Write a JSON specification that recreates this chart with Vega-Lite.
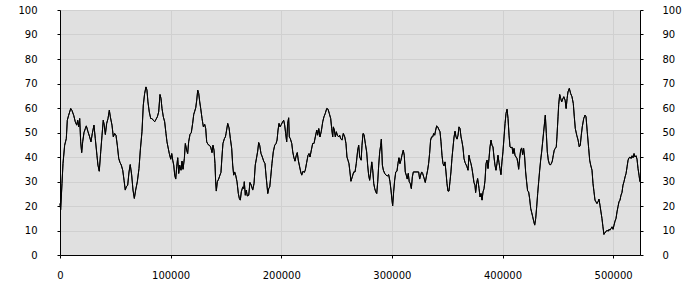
{
  "$schema": "https://vega.github.io/schema/vega-lite/v6.json",
  "width": 580,
  "height": 245,
  "autosize": {"type": "none"},
  "padding": {"left": 60, "top": 10, "right": 60, "bottom": 45},
  "background": "white",
  "config": {
    "view": {"stroke": null, "fill": "#e0e0e0"},
    "axis": {
      "labelFont": "DejaVu Sans",
      "labelFontSize": 10,
      "labelColor": "#000000",
      "domainColor": "#000000",
      "domainWidth": 1,
      "tickColor": "#000000",
      "tickSize": 3,
      "gridColor": "#d0d0d0",
      "gridWidth": 1,
      "labelFlush": false,
      "title": null
    }
  },
  "data": {
    "values": [
      {"x":0,"v":21},{"x":600,"v":18.5},{"x":1800,"v":29.2},{"x":2700,"v":37.3},{"x":4200,"v":44.8},{"x":5700,"v":47.5},{"x":6600,"v":55},{"x":7800,"v":57},{"x":9700,"v":59.8},{"x":10800,"v":59},{"x":12400,"v":57},{"x":13800,"v":54.4},{"x":15100,"v":53},{"x":16000,"v":55},{"x":16900,"v":52.3},{"x":17800,"v":55.7},{"x":18700,"v":46.2},{"x":19600,"v":41.8},{"x":20500,"v":46.2},{"x":21700,"v":50},{"x":22900,"v":51.6},{"x":23800,"v":52.7},{"x":25300,"v":50.3},{"x":26800,"v":48.2},{"x":28000,"v":46.2},{"x":29200,"v":49.6},{"x":30700,"v":53},{"x":31900,"v":47.5},{"x":33400,"v":40.7},{"x":34300,"v":36.7},{"x":35500,"v":34.2},{"x":36800,"v":42.1},{"x":38000,"v":48.9},{"x":39100,"v":55},{"x":40000,"v":53},{"x":41000,"v":49.2},{"x":42200,"v":53.7},{"x":43400,"v":55.7},{"x":44600,"v":59.1},{"x":45500,"v":56.4},{"x":47000,"v":53},{"x":48200,"v":48.2},{"x":49400,"v":49.6},{"x":50600,"v":48.9},{"x":51800,"v":44.8},{"x":53100,"v":39.4},{"x":54200,"v":37.8},{"x":55400,"v":36.7},{"x":56700,"v":34.6},{"x":57900,"v":30.5},{"x":59000,"v":26.5},{"x":59900,"v":27.8},{"x":61200,"v":28.5},{"x":62400,"v":33.9},{"x":63500,"v":36.9},{"x":64800,"v":32.6},{"x":66000,"v":26.5},{"x":67200,"v":23.1},{"x":68400,"v":26.5},{"x":69900,"v":29.9},{"x":71400,"v":35.3},{"x":72600,"v":42.8},{"x":74100,"v":50.3},{"x":75300,"v":61.2},
      {"x":76500,"v":65.9},{"x":77700,"v":68.6},{"x":78600,"v":67.3},{"x":79500,"v":62.5},{"x":80700,"v":58.4},{"x":82000,"v":55.7},{"x":83200,"v":55.7},{"x":84300,"v":55},{"x":85600,"v":54.4},{"x":86800,"v":55.4},{"x":88000,"v":56.4},{"x":89200,"v":58.4},{"x":90400,"v":65.5},{"x":91300,"v":63.9},{"x":92200,"v":59.8},{"x":93400,"v":56.4},{"x":94600,"v":54.4},{"x":95800,"v":49.6},{"x":96700,"v":46.2},{"x":97600,"v":44.1},{"x":98800,"v":41.4},{"x":100100,"v":39.1},{"x":101000,"v":41.4},{"x":101900,"v":38.7},{"x":102800,"v":36.7},{"x":103700,"v":32.6},{"x":104600,"v":31},{"x":105500,"v":36},{"x":106400,"v":39.7},{"x":107300,"v":33.3},{"x":108200,"v":36.7},{"x":109400,"v":34.6},{"x":110300,"v":38.3},{"x":111200,"v":35},{"x":112400,"v":39.4},{"x":113300,"v":45.5},{"x":114500,"v":42.8},{"x":115400,"v":41.4},{"x":116300,"v":46.2},{"x":117500,"v":49.2},{"x":118700,"v":50},{"x":119900,"v":53.7},{"x":120900,"v":57.4},{"x":121800,"v":58.7},{"x":122700,"v":60.1},{"x":123600,"v":63.2},{"x":124500,"v":67.3},{"x":125400,"v":65.9},{"x":126300,"v":62.5},{"x":127200,"v":59.8},{"x":128400,"v":55.7},{"x":129600,"v":52.3},{"x":130800,"v":53.3},{"x":131700,"v":51.6},{"x":132600,"v":46.2},{"x":133800,"v":45.1},{"x":135000,"v":44.8},{"x":136200,"v":44.1},{"x":137400,"v":41.8},{"x":138300,"v":44.8},{"x":139200,"v":42.8},{"x":140100,"v":37.3},{"x":140700,"v":29.9},{"x":141300,"v":26.1},{"x":142200,"v":29.9},{"x":143400,"v":31},{"x":144600,"v":32.6},{"x":145500,"v":33.7},{"x":146400,"v":40},{"x":147300,"v":45.5},{"x":148600,"v":47.5},{"x":149500,"v":48.2},
      {"x":150100,"v":49.6},{"x":151600,"v":53.7},{"x":152800,"v":51.9},{"x":154000,"v":47.5},{"x":155200,"v":43.5},{"x":156100,"v":36.7},{"x":157000,"v":32.6},{"x":157900,"v":33.9},{"x":158800,"v":32.6},{"x":160000,"v":29.9},{"x":161200,"v":25.1},{"x":162100,"v":23.1},{"x":163000,"v":22.4},{"x":163900,"v":25.8},{"x":165200,"v":27.8},{"x":166100,"v":27.1},{"x":166600,"v":29.9},{"x":167500,"v":24.4},{"x":168400,"v":26.5},{"x":169300,"v":24.1},{"x":170600,"v":24.4},{"x":171700,"v":29.6},{"x":172900,"v":28.5},{"x":174200,"v":26.5},{"x":175400,"v":29.2},{"x":176500,"v":36.7},{"x":177800,"v":40},{"x":178700,"v":42.4},{"x":179600,"v":45.9},{"x":180500,"v":44.8},{"x":181700,"v":41.4},{"x":182900,"v":40},{"x":184100,"v":38.3},{"x":185300,"v":37.3},{"x":186200,"v":32.6},{"x":187100,"v":28.5},{"x":187800,"v":25.1},{"x":188700,"v":27.1},{"x":189600,"v":27.8},{"x":190500,"v":31.9},{"x":191600,"v":37.3},{"x":192800,"v":42.1},{"x":194100,"v":44.8},{"x":195300,"v":45.5},{"x":196200,"v":46.9},{"x":197100,"v":51},{"x":198000,"v":53.7},{"x":198900,"v":52.3},{"x":200100,"v":53.3},{"x":201300,"v":54.4},{"x":202200,"v":55},{"x":203100,"v":53},{"x":204000,"v":49.6},{"x":204900,"v":46.2},{"x":205800,"v":53.7},{"x":206700,"v":56},{"x":207300,"v":48.2},{"x":208200,"v":47.5},{"x":209500,"v":45.5},{"x":210400,"v":42.1},{"x":211300,"v":40},{"x":212400,"v":38.3},{"x":213600,"v":40.7},{"x":214500,"v":41.8},{"x":215400,"v":38.7},{"x":216300,"v":36.7},{"x":217600,"v":33.9},{"x":218500,"v":32.6},{"x":219700,"v":34.2},{"x":220800,"v":33.7},{"x":221700,"v":34.6},{"x":223000,"v":37.8},{"x":224200,"v":40.7},{"x":225100,"v":41.4},{"x":226000,"v":40},
      {"x":227200,"v":42.8},{"x":228400,"v":45.5},{"x":229600,"v":45.5},{"x":230800,"v":48.2},{"x":232100,"v":51},{"x":232900,"v":48.9},{"x":233900,"v":51.6},{"x":235000,"v":48.2},{"x":236200,"v":50.5},{"x":237500,"v":54.4},{"x":238600,"v":56.4},{"x":239800,"v":57.8},{"x":241100,"v":59.8},{"x":242300,"v":59.5},{"x":243400,"v":57.8},{"x":244700,"v":55.7},{"x":245600,"v":51.6},{"x":246500,"v":48.2},{"x":247100,"v":52.3},{"x":248000,"v":51},{"x":248900,"v":48.2},{"x":249800,"v":50.3},{"x":250700,"v":48.9},{"x":251900,"v":48.2},{"x":252800,"v":48.9},{"x":253700,"v":47.5},{"x":254900,"v":46.9},{"x":256100,"v":49.6},{"x":257400,"v":48.2},{"x":258500,"v":45.5},{"x":259400,"v":40},{"x":260300,"v":38.7},{"x":261200,"v":37.3},{"x":262100,"v":33.9},{"x":263000,"v":30.1},{"x":264200,"v":31.9},{"x":265500,"v":33.9},{"x":266700,"v":33.9},{"x":267800,"v":37.3},{"x":269100,"v":42.8},{"x":270000,"v":44.8},{"x":270900,"v":40},{"x":272200,"v":38.7},{"x":273000,"v":44.8},{"x":273900,"v":49.6},{"x":274800,"v":49.2},{"x":276000,"v":45.5},{"x":277200,"v":42.1},{"x":278100,"v":36.7},{"x":279000,"v":32.6},{"x":279900,"v":30.5},{"x":280900,"v":33.9},{"x":281800,"v":38},{"x":282700,"v":34.6},{"x":283600,"v":29.2},{"x":284500,"v":27.1},{"x":285400,"v":25.8},{"x":286300,"v":25.1},{"x":287200,"v":29.9},{"x":288100,"v":36.7},{"x":289000,"v":42.1},{"x":289900,"v":44.8},{"x":290500,"v":47.3},{"x":291400,"v":36.7},{"x":292300,"v":34.6},{"x":293500,"v":33.3},{"x":294700,"v":32.6},{"x":295900,"v":32.3},{"x":297100,"v":32.8},{"x":298300,"v":29.9},{"x":299200,"v":26.5},{"x":300100,"v":22.4},{"x":300700,"v":20.1},{"x":301600,"v":25.8},{"x":302500,"v":30.5},{"x":303500,"v":33.9},
      {"x":304600,"v":34.2},{"x":305500,"v":37.3},{"x":306400,"v":39.7},{"x":307300,"v":37.3},{"x":308200,"v":38.7},{"x":309100,"v":40.7},{"x":310300,"v":42.8},{"x":311200,"v":40.7},{"x":312100,"v":33.9},{"x":313000,"v":32.6},{"x":313900,"v":31},{"x":314800,"v":33.3},{"x":315700,"v":29.9},{"x":316600,"v":29.2},{"x":317600,"v":27.1},{"x":318500,"v":31.9},{"x":319400,"v":33.9},{"x":321800,"v":33.9},{"x":324200,"v":33.9},{"x":325100,"v":31},{"x":326000,"v":32.6},{"x":326900,"v":33.9},{"x":327800,"v":33.3},{"x":329000,"v":31.5},{"x":330200,"v":29.6},{"x":331400,"v":32.6},{"x":332300,"v":34.6},{"x":333200,"v":37.3},{"x":334100,"v":41.4},{"x":335000,"v":46.9},{"x":335900,"v":48.2},{"x":336900,"v":48.2},{"x":337800,"v":49.6},{"x":338700,"v":48.9},{"x":339600,"v":51},{"x":340500,"v":52.7},{"x":341400,"v":52.3},{"x":342300,"v":51.4},{"x":343500,"v":50.3},{"x":344400,"v":46.2},{"x":345300,"v":40.7},{"x":346200,"v":37.3},{"x":347100,"v":36.4},{"x":348000,"v":38},{"x":348900,"v":33.9},{"x":349800,"v":29.2},{"x":350700,"v":26.1},{"x":351600,"v":26.1},{"x":352500,"v":29.9},{"x":353400,"v":33.9},{"x":354300,"v":39.4},{"x":355300,"v":44.1},{"x":356200,"v":48.2},{"x":357100,"v":50.5},{"x":358000,"v":48.2},{"x":358900,"v":47.3},{"x":359800,"v":48.9},{"x":360700,"v":52.3},{"x":361600,"v":51.6},{"x":362500,"v":48.2},{"x":363400,"v":46.2},{"x":364300,"v":43.7},{"x":365200,"v":39.4},{"x":366100,"v":37.8},{"x":367000,"v":36.9},{"x":367900,"v":36},{"x":368800,"v":34.6},{"x":369700,"v":40.7},{"x":370600,"v":38.7},{"x":371500,"v":37.3},{"x":372400,"v":35.3},{"x":373300,"v":32.6},{"x":374200,"v":29.6},{"x":375100,"v":28.5},{"x":375700,"v":25.5},{"x":376600,"v":29.2},{"x":377500,"v":31.2},{"x":378400,"v":28.5},{"x":378800,"v":27.1},
      {"x":379700,"v":23.7},{"x":380600,"v":25.1},{"x":381500,"v":22.4},{"x":382400,"v":25.8},{"x":383300,"v":27.1},{"x":384200,"v":30.5},{"x":385100,"v":37.3},{"x":386000,"v":38.7},{"x":386900,"v":35.3},{"x":387800,"v":39.4},{"x":388700,"v":44.1},{"x":389600,"v":46.9},{"x":390500,"v":44.8},{"x":391400,"v":44.1},{"x":392300,"v":40},{"x":393200,"v":36.7},{"x":394100,"v":34.6},{"x":395000,"v":37.3},{"x":395900,"v":40.7},{"x":396800,"v":37.8},{"x":397700,"v":35.3},{"x":398600,"v":32.8},{"x":399500,"v":38},{"x":400400,"v":42.1},{"x":401400,"v":48.2},{"x":402300,"v":53.7},{"x":403200,"v":57.8},{"x":404100,"v":59.5},{"x":405000,"v":55.7},{"x":405900,"v":48.9},{"x":406800,"v":44.1},{"x":407700,"v":43.7},{"x":408600,"v":44.1},{"x":409500,"v":41.4},{"x":410400,"v":43.5},{"x":411300,"v":40.7},{"x":412200,"v":40},{"x":413100,"v":39.4},{"x":414000,"v":37.3},{"x":414600,"v":35},{"x":415500,"v":39.4},{"x":416400,"v":42.8},{"x":417300,"v":43.7},{"x":418200,"v":41},{"x":419100,"v":43.5},{"x":420000,"v":40},{"x":420900,"v":33.9},{"x":421800,"v":29.9},{"x":422700,"v":26.1},{"x":423600,"v":25.8},{"x":424500,"v":23.1},{"x":425500,"v":19},{"x":426400,"v":17.3},{"x":427300,"v":15.6},{"x":428200,"v":13.8},{"x":429100,"v":12.2},{"x":430000,"v":14.9},{"x":430900,"v":19.7},{"x":431800,"v":25.1},{"x":432700,"v":29.9},{"x":433600,"v":34.6},{"x":434500,"v":38.7},{"x":435400,"v":42.1},{"x":436300,"v":46.2},{"x":437200,"v":50.3},{"x":438100,"v":54.4},{"x":438700,"v":57.1},{"x":439600,"v":49.6},{"x":440500,"v":42.1},{"x":441400,"v":38.7},{"x":442300,"v":37.3},{"x":443200,"v":36.7},{"x":444100,"v":37.3},{"x":445000,"v":38.3},{"x":445900,"v":40.7},{"x":446800,"v":42.8},{"x":447700,"v":43.5},{"x":448600,"v":44.1},{"x":449200,"v":48.2},{"x":450200,"v":56.4},{"x":450800,"v":61.4},{"x":451700,"v":65.5},{"x":452600,"v":63.9},{"x":453500,"v":62.5},{"x":454400,"v":63.6},
      {"x":455400,"v":64.6},{"x":456600,"v":63.2},{"x":457500,"v":59.8},{"x":458400,"v":63.9},{"x":459200,"v":66.6},{"x":460400,"v":68},{"x":461600,"v":65.9},{"x":462800,"v":64.6},{"x":464000,"v":61.8},{"x":464900,"v":56.4},{"x":465800,"v":51.6},{"x":467100,"v":48.9},{"x":468300,"v":46.9},{"x":469400,"v":44.1},{"x":470300,"v":44.8},{"x":471200,"v":48.9},{"x":472100,"v":52.3},{"x":473400,"v":55.7},{"x":474600,"v":57.1},{"x":475500,"v":56.4},{"x":476600,"v":50.3},{"x":477900,"v":43.5},{"x":478800,"v":38.7},{"x":479700,"v":36.7},{"x":480900,"v":34.6},{"x":481800,"v":29.2},{"x":482700,"v":25.8},{"x":483600,"v":22.4},{"x":484500,"v":21.7},{"x":485400,"v":21},{"x":486300,"v":21.7},{"x":487200,"v":22.8},{"x":488100,"v":20.3},{"x":489000,"v":17.6},{"x":489900,"v":14.9},{"x":490800,"v":11.5},{"x":491700,"v":8.4},{"x":492600,"v":9.2},{"x":493600,"v":9.5},{"x":494500,"v":10.1},{"x":495400,"v":9.7},{"x":496300,"v":10.5},{"x":497200,"v":10.1},{"x":498100,"v":10.8},{"x":499000,"v":11.5},{"x":499900,"v":10.5},{"x":500800,"v":12.2},{"x":501700,"v":13.8},{"x":502600,"v":14.9},{"x":503500,"v":17.6},{"x":504400,"v":19.7},{"x":505300,"v":21.7},{"x":506200,"v":22.4},{"x":507100,"v":24.4},{"x":508000,"v":25.5},{"x":508900,"v":28.5},{"x":509800,"v":29.9},{"x":510800,"v":31.9},{"x":511700,"v":33.3},{"x":512600,"v":36},{"x":513500,"v":38.7},{"x":514400,"v":39.7},{"x":515300,"v":40},{"x":516200,"v":39.4},{"x":517100,"v":40.5},{"x":518000,"v":39.7},{"x":518900,"v":41.4},{"x":519800,"v":40},{"x":520700,"v":40.5},{"x":521600,"v":39.1},{"x":522500,"v":35.3},{"x":523400,"v":32.6},{"x":524200,"v":29.9}
    ]
  },
  "encoding": {
    "x": {
      "field": "x",
      "type": "quantitative",
      "scale": {"domain": [0, 524288], "nice": false, "zero": false},
      "axis": {"values": [0, 100000, 200000, 300000, 400000, 500000], "format": "d", "labelPadding": 12, "grid": true, "labelFlush": false}
    }
  },
  "layer": [
    {
      "mark": {"type": "line", "color": "#000000", "strokeWidth": 1},
      "encoding": {
        "y": {
          "field": "v",
          "type": "quantitative",
          "scale": {"domain": [0, 100], "nice": false},
          "axis": {"orient": "left", "values": [0,10,20,30,40,50,60,70,80,90,100], "labelPadding": 20, "grid": true}
        }
      }
    },
    {
      "mark": {"type": "line", "color": "#000000", "strokeWidth": 1},
      "encoding": {
        "y": {
          "field": "v",
          "type": "quantitative",
          "scale": {"domain": [0, 100], "nice": false},
          "axis": {"orient": "right", "values": [0,10,20,30,40,50,60,70,80,90,100], "labelPadding": 19, "grid": false}
        }
      }
    }
  ],
  "resolve": {"axis": {"y": "independent"}}
}
